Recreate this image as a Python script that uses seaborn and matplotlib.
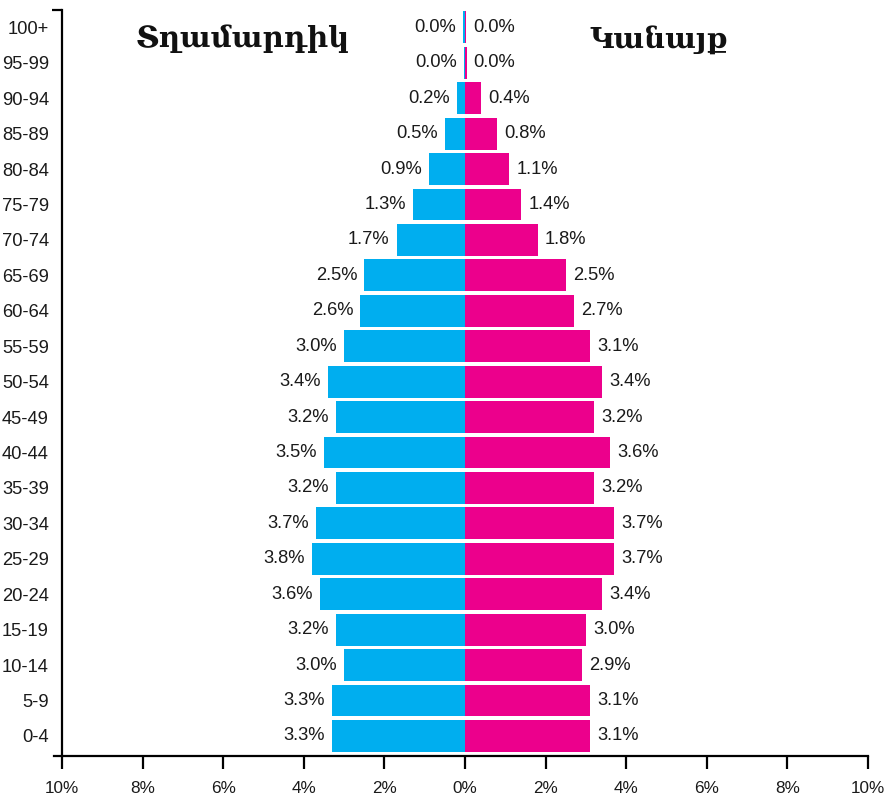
import matplotlib
matplotlib.use("Agg")
import matplotlib.pyplot as plt
import seaborn as sns
import pandas as pd

# Age groups, youngest first
age_groups = ["0-4", "5-9", "10-14", "15-19", "20-24", "25-29", "30-34", "35-39",
              "40-44", "45-49", "50-54", "55-59", "60-64", "65-69", "70-74",
              "75-79", "80-84", "85-89", "90-94", "95-99", "100+"]

# Share of total population, percent
male_pct = [3.3, 3.3, 3.0, 3.2, 3.6, 3.8, 3.7, 3.2, 3.5, 3.2, 3.4, 3.0, 2.6,
            2.5, 1.7, 1.3, 0.9, 0.5, 0.2, 0.03, 0.04]
female_pct = [3.1, 3.1, 2.9, 3.0, 3.4, 3.7, 3.7, 3.2, 3.6, 3.2, 3.4, 3.1, 2.7,
              2.5, 1.8, 1.4, 1.1, 0.8, 0.4, 0.04, 0.02]

male_title = "Տղամարդիկ"
female_title = "Կանայք"

x_ticks = [-10, -8, -6, -4, -2, 0, 2, 4, 6, 8, 10]

BLUE = "#00AEEF"
PINK = "#EC008C"

df = pd.DataFrame({
    "age": age_groups * 2,
    "value": [-v for v in male_pct] + list(female_pct),
    "sex": ["M"] * len(age_groups) + ["F"] * len(age_groups),
})

sns.set_theme(style="white")
plt.rcParams["font.family"] = ["Liberation Sans", "DejaVu Sans"]

fig = plt.figure(figsize=(8.88, 8.01), dpi=100)
ax = fig.add_axes([0.0608, 0.0562, 0.9167, 0.9313])

order = age_groups[::-1]  # oldest at the top
sns.barplot(data=df, x="value", y="age", hue="sex", order=order,
            hue_order=["M", "F"], palette={"M": BLUE, "F": PINK},
            saturation=1, dodge=False, width=0.9, orient="h", linewidth=0,
            legend=False, ax=ax)

ax.set_xlim(-10.2, 10)
ax.set_ylim(20.565, -0.49)
ax.set_xlabel("")
ax.set_ylabel("")

FS = 13.2

# value labels at the end of each bar
for i, age in enumerate(order):
    idx = age_groups.index(age)
    m = male_pct[idx]
    f = female_pct[idx]
    ax.annotate(f"{m:.1f}%", xy=(-m, i), xytext=(-5, 0),
                textcoords="offset points", ha="right", va="center",
                fontsize=FS, color="#1a1a1a")
    ax.annotate(f"{f:.1f}%", xy=(f, i), xytext=(5, 0),
                textcoords="offset points", ha="left", va="center",
                fontsize=FS, color="#1a1a1a")

# axes styling
for side in ["top", "right"]:
    ax.spines[side].set_visible(False)
ax.spines["left"].set_position(("data", -10))
for side in ["left", "bottom"]:
    ax.spines[side].set_color("black")
    ax.spines[side].set_linewidth(1.6)

ax.set_xticks(x_ticks)
ax.set_xticklabels([f"{abs(t)}%" for t in x_ticks])
ax.tick_params(axis="x", length=9.5, width=1.6, color="black", pad=8.5,
               labelsize=12.3, direction="out", bottom=True)
ax.tick_params(axis="y", which="major", length=0, pad=9.5, labelsize=FS)
ax.set_yticks([-0.49], minor=True)
ax.tick_params(axis="y", which="minor", length=7, width=1.6, color="black",
               direction="out", left=True)
for lab in ax.get_xticklabels() + ax.get_yticklabels():
    lab.set_color("#1a1a1a")

ax.text(0.232, 0.950, male_title, transform=ax.transAxes, ha="center",
        va="baseline", fontsize=21, fontweight="bold",
        family=["DejaVu Serif", "DejaVu Sans"], color="#111111")
ax.text(0.743, 0.950, female_title, transform=ax.transAxes, ha="center",
        va="baseline", fontsize=21, fontweight="bold",
        family=["DejaVu Serif", "DejaVu Sans"], color="#111111")

fig.savefig("out.png", dpi=100, facecolor="white")
